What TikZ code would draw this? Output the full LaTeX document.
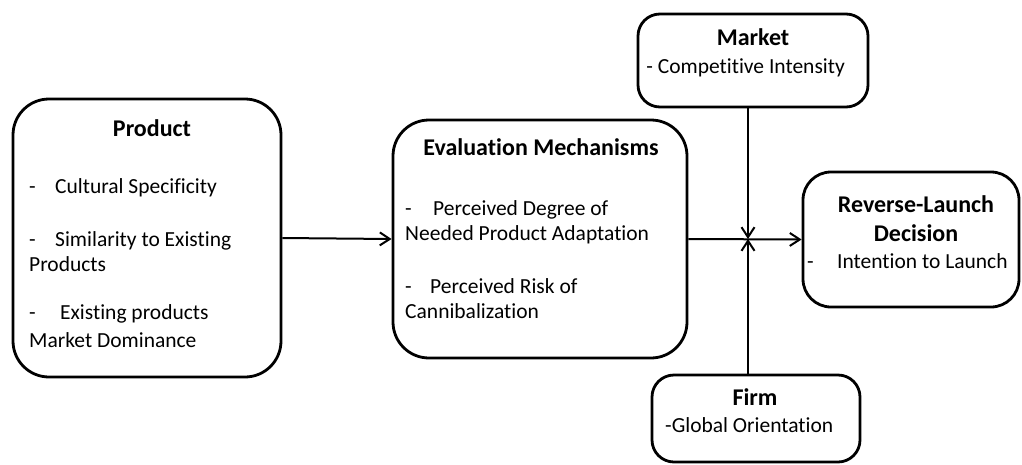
\documentclass[tikz,border=0pt]{standalone}
\usepackage{fontspec}
\setmainfont{Carlito}[Ligatures={NoCommon}]
\usepackage{tikz}
\usetikzlibrary{arrows.meta}
\usetikzlibrary{calc}

\begin{document}
\begin{tikzpicture}[x=1pt,y=-1pt,>={Straight Barb[length=10pt,width=13pt]}]
		\tikzset{box/.style={draw=black,line width=2.8pt,inner sep=0pt},
			txt/.style={inner sep=0pt,font=\fontsize{21.5}{26}\selectfont},
			ttl/.style={inner sep=0pt,font=\fontsize{24}{28}\selectfont\bfseries},
			link/.style={->,draw=black,line width=2pt}}
		\useasboundingbox (0,0) rectangle (1022,464);

		%Product
		\node at (147,238) (product) [box,rounded corners=36pt,minimum width=268pt,minimum height=278pt] {};
		\node[ttl,anchor=base] at (152,136) (pt)[] {Product};
		\node[txt,anchor=base west] at (29,193) (p1)[] {\makebox[26pt][l]{-}Cultural Specificity};
		\node[txt,anchor=base west] at (29,246) (p2)[] {\makebox[26pt][l]{-}Similarity to Existing};
		\node[txt,anchor=base west] at (29,271) (p3)[] {Products};
		\node[txt,anchor=base west] at (29,319) (p4)[] {\makebox[31pt][l]{-}Existing products};
		\node[txt,anchor=base west] at (29,347) (p5)[] {Market Dominance};

		%Evaluation Mechanisms
		\node at (540,239) (eval) [box,rounded corners=36pt,minimum width=294pt,minimum height=238pt] {};
		\node[ttl,anchor=base] at (541,155) (et)[] {Evaluation Mechanisms};
		\node[txt,anchor=base west] at (405,215) (e1)[] {\makebox[28pt][l]{-}Perceived Degree of};
		\node[txt,anchor=base west] at (405,240) (e2)[] {Needed Product Adaptation};
		\node[txt,anchor=base west] at (405,293) (e3)[] {\makebox[25pt][l]{-}Perceived Risk of};
		\node[txt,anchor=base west] at (405,318) (e4)[] {Cannibalization};

		%Market
		\node at (753,60.5) (market) [box,rounded corners=22pt,minimum width=230pt,minimum height=93pt] {};
		\node[ttl,anchor=base] at (753,45) (mt)[] {Market};
		\node[txt,anchor=base east] at (845,73) (m1)[] {- Competitive Intensity};

		%Reverse-Launch Decision
		\node at (911,239.5) (decision) [box,rounded corners=28pt,minimum width=216pt,minimum height=135pt] {};
		\node[ttl,anchor=base] at (916,212) (dt)[] {Reverse-Launch};
		\node[ttl,anchor=base] at (916,241) (dt2)[] {Decision};
		\node[txt,anchor=base west] at (807,268) (d1)[] {\makebox[30pt][l]{-}Intention to Launch};

		%Firm
		\node at (756,418.5) (firm) [box,rounded corners=22pt,minimum width=208pt,minimum height=87pt] {};
		\node[ttl,anchor=base] at (755,405) (ft)[] {Firm};
		\node[txt,anchor=base west] at (665,432) (f1)[] {-Global Orientation};

		% connectors
		\coordinate (j) at (748,239);
		\draw[link] (product.east) -- (eval.west);
		\draw[link] (eval.east) -- (decision.west);
		\draw[link] (market.south -| j) -- (j);
		\draw[link] (firm.north -| j) -- (j);
	\end{tikzpicture}
\end{document}
